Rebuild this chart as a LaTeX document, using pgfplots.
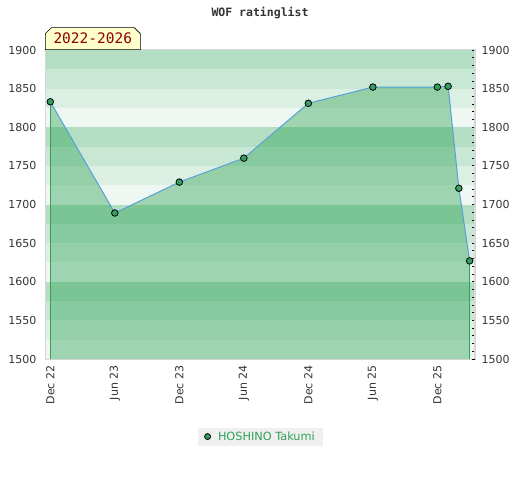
\documentclass[border=0pt]{standalone}
\usepackage{pgfplots}
\pgfplotsset{compat=1.18}
\usepackage{fontspec}
\setmainfont{DejaVu Sans}
\newfontfamily\monofont{DejaVu Sans Mono}
\usetikzlibrary{shapes.misc}

\definecolor{bandA}{RGB}{179,222,196}
\definecolor{bandB}{RGB}{200,231,212}
\definecolor{bandC}{RGB}{220,239,227}
\definecolor{bandD}{RGB}{238,247,241}
\definecolor{areafill}{RGB}{40,160,80}
\definecolor{edgegreen}{RGB}{46,161,90}
\definecolor{linecol}{RGB}{90,160,216}
\definecolor{markgreen}{RGB}{52,160,96}
\definecolor{framegray}{RGB}{215,215,215}
\definecolor{labelred}{RGB}{140,0,0}

\begin{document}
\begin{tikzpicture}
\useasboundingbox (0,0) rectangle (520pt,480pt);

\begin{axis}[
  at={(46pt,121pt)}, anchor=south west,
  scale only axis, width=429pt, height=309pt,
  xmin=-0.4, xmax=39.5, ymin=1500, ymax=1900,
  xtick={0,6,12,18,24,30,36},
  xticklabels={Dec 22,Jun 23,Dec 23,Jun 24,Dec 24,Jun 25,Dec 25},
  x tick label style={rotate=90, anchor=east, xshift=-3pt, font=\fontsize{11}{13}\selectfont, text=black!80},
  ytick={1500,1550,...,1900},
  y tick label style={xshift=-6pt, font=\fontsize{11}{13}\selectfont, text=black!80},
  /pgf/number format/assume math mode=true,
  /pgf/number format/1000 sep={},
  major tick length=0pt,
  axis line style={framegray, line width=1.2pt},
  legend style={at={(0.5,-0.251)}, anchor=center, fill=black!6, draw=none,
    font=\fontsize{11.3}{13}\selectfont, text=edgegreen, inner xsep=6pt, inner ysep=2pt},
  legend cell align=left,
]
% background stripes
\pgfplotsinvokeforeach{1500,1600,1700,1800}{
  \fill[bandD] (axis cs:-1,#1) rectangle (axis cs:41,#1+25);
  \fill[bandC] (axis cs:-1,#1+25) rectangle (axis cs:41,#1+50);
  \fill[bandB] (axis cs:-1,#1+50) rectangle (axis cs:41,#1+75);
  \fill[bandA] (axis cs:-1,#1+75) rectangle (axis cs:41,#1+100);
}
\addplot[fill=areafill, fill opacity=0.4, draw=none, forget plot] coordinates {
  (0,1500) (0,1833) (6,1689) (12,1729) (18,1760) (24,1831) (30,1852)
  (36,1852) (37,1853) (38,1721) (39,1627) (39,1500)};
\addplot[edgegreen, line width=1pt, forget plot] coordinates {(0,1500) (0,1833)};
\addplot[edgegreen, line width=1pt, forget plot] coordinates {(39,1500) (39,1627)};
\addplot[linecol, line width=1pt, mark=*, mark size=3.3pt,
  mark options={fill=markgreen, draw=black, line width=0.8pt},
  legend image code/.code={\draw[fill=markgreen, draw=black, line width=0.8pt] (0.1cm,0) circle (3pt);}]
  coordinates {
  (0,1833) (6,1689) (12,1729) (18,1760) (24,1831) (30,1852)
  (36,1852) (37,1853) (38,1721) (39,1627)};
\addlegendentry{\hspace{5pt}HOSHINO Takumi}
\end{axis}

\begin{axis}[
  at={(46pt,121pt)}, anchor=south west,
  scale only axis, width=429pt, height=309pt,
  xmin=-0.4, xmax=39.5, ymin=1500, ymax=1900,
  hide x axis,
  axis y line*=right,
  y axis line style={framegray, line width=1.2pt},
  ytick={1500,1550,...,1900},
  minor y tick num=4,
  tick align=inside,
  major tick length=3pt, minor tick length=3pt,
  every tick/.style={black, line width=0.8pt},
  y tick label style={xshift=3pt, font=\fontsize{11}{13}\selectfont, text=black!80},
  /pgf/number format/assume math mode=true,
  /pgf/number format/1000 sep={},
]
\addplot[draw=none] coordinates {(0,1500)};
\end{axis}

\node[font=\monofont\bfseries\fontsize{11.5}{13}\selectfont, text=black!80] at (260pt,467pt) {WOF ratinglist};

\node[chamfered rectangle, chamfered rectangle corners={north west, north east},
  chamfered rectangle xsep=3pt, chamfered rectangle ysep=3pt,
  draw=black, line width=0.6pt, fill={rgb,255:red,255;green,255;blue,204},
  minimum width=95pt, minimum height=22pt, inner sep=0pt, anchor=south west,
  font=\monofont\fontsize{14.5}{16}\selectfont, text=labelred]
  at (45pt,430pt) {2022-2026};
\end{tikzpicture}
\end{document}
